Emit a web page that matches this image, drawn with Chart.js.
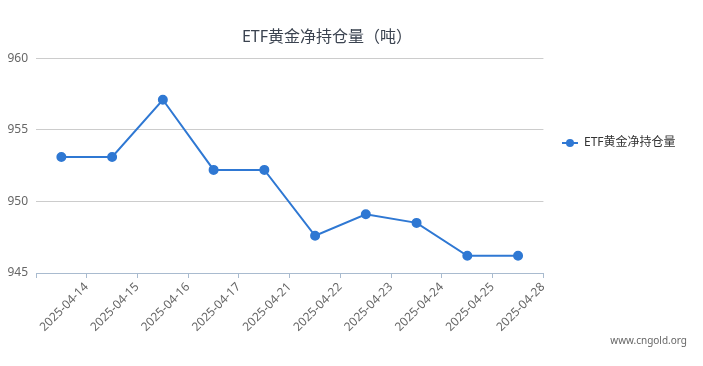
<!DOCTYPE html>
<html>
<head>
<meta charset="utf-8">
<script src="https://cdn.jsdelivr.net/npm/chart.js@4/dist/chart.umd.min.js"></script>
<style>
  html, body { margin: 0; padding: 0; background: #fff; }
  #wrap { width: 703px; height: 366px; }
</style>
</head>
<body>
<div id="wrap"><canvas id="etfChart"></canvas></div>
<script>
const dates = ['2025-04-14', '2025-04-15', '2025-04-16', '2025-04-17', '2025-04-21',
               '2025-04-22', '2025-04-23', '2025-04-24', '2025-04-25', '2025-04-28'];
const holdings = [953.1, 953.1, 957.1, 952.2, 952.2, 947.6, 949.1, 948.5, 946.2, 946.2];
const seriesName = 'ETF黄金净持仓量';
const titleText = 'ETF黄金净持仓量（吨）';
const yTicks = [945, 950, 955, 960];

const lineColor = '#2f78d3';
const fontFamily = "'Noto Sans', 'Noto Sans CJK SC', sans-serif";

// legend icon: short line with a dot, like the original
const icon = document.createElement('canvas');
icon.width = 16;
icon.height = 10;
const ic = icon.getContext('2d');
ic.strokeStyle = lineColor;
ic.lineWidth = 2;
ic.beginPath();
ic.moveTo(0, 5);
ic.lineTo(16, 5);
ic.stroke();
ic.fillStyle = lineColor;
ic.beginPath();
ic.arc(8, 5, 4, 0, Math.PI * 2);
ic.fill();

const tweakLayout = {
    id: 'tweakLayout',
    afterLayout(chart) {
        const t = chart.titleBlock;
        if (t) { t.left = 0; t.right = 654; }
        const lg = chart.legend;
        if (lg) {
            lg.top = 143 - 50;
            lg.bottom = 143 + 50;
            lg.height = 100;
            lg.left = 552;
        }
    },
    afterDraw(chart) {
        const ctx = chart.ctx;
        ctx.save();
        ctx.font = '10px ' + fontFamily;
        ctx.fillStyle = '#666';
        ctx.textAlign = 'right';
        ctx.textBaseline = 'middle';
        ctx.fillText('www.cngold.org', 687, 341);
        ctx.restore();
    }
};

const ctx = document.getElementById('etfChart').getContext('2d');
new Chart(ctx, {
    type: 'line',
    data: {
        labels: dates,
        datasets: [{
            label: seriesName,
            data: holdings,
            borderColor: lineColor,
            backgroundColor: lineColor,
            borderWidth: 2,
            pointRadius: 4,
            pointHoverRadius: 5,
            pointBackgroundColor: lineColor,
            pointBorderColor: lineColor,
            pointStyle: 'circle',
            tension: 0,
            fill: false
        }]
    },
    options: {
        responsive: true,
        maintainAspectRatio: false,
        animation: false,
        layout: { padding: { left: 0, right: 26, top: 0, bottom: 0 } },
        plugins: {
            title: {
                display: true,
                text: titleText,
                color: '#3b4350',
                font: { family: fontFamily, size: 16, weight: 'normal', lineHeight: 1.2 },
                padding: { top: 28, bottom: 11 }
            },
            legend: {
                position: 'right',
                align: 'center',
                labels: {
                    usePointStyle: true,
                    pointStyleWidth: 16,
                    color: '#333',
                    font: { family: fontFamily, size: 12 },
                    generateLabels(chart) {
                        return chart.data.datasets.map((ds, i) => ({
                            text: ds.label,
                            pointStyle: icon,
                            fillStyle: lineColor,
                            strokeStyle: lineColor,
                            lineWidth: 0,
                            hidden: false,
                            datasetIndex: i,
                            fontColor: '#333'
                        }));
                    }
                }
            },
            tooltip: { enabled: false }
        },
        scales: {
            x: {
                type: 'category',
                offset: true,
                border: { display: true, color: '#a9bbcf', width: 1 },
                grid: {
                    offset: true,
                    drawOnChartArea: false,
                    drawTicks: true,
                    tickLength: 5,
                    color: '#a9bbcf'
                },
                ticks: {
                    autoSkip: false,
                    minRotation: 45,
                    maxRotation: 45,
                    labelOffset: 25,
                    padding: 2,
                    color: '#666',
                    font: { family: fontFamily, size: 12 }
                },
                afterFit(scale) { scale.height = 93; }
            },
            y: {
                min: 945,
                max: 960,
                border: { display: false },
                grid: { color: '#cccccc', drawTicks: false },
                afterBuildTicks(scale) { scale.ticks = yTicks.map(v => ({ value: v })); },
                ticks: {
                    padding: 8,
                    color: '#666',
                    font: { family: fontFamily, size: 12 }
                },
                afterFit(scale) { scale.width = 36; }
            }
        }
    },
    plugins: [tweakLayout]
});
</script>
</body>
</html>
